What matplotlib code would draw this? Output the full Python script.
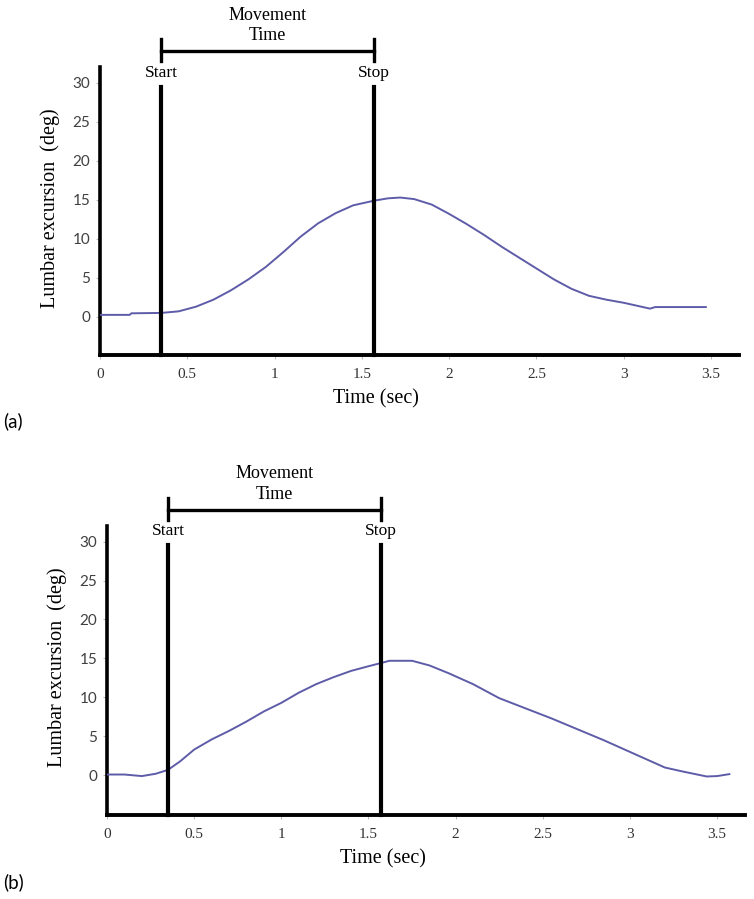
import matplotlib
matplotlib.use('Agg')
import matplotlib.pyplot as plt


# values (time in sec, lumbar excursion in deg)
time_a = [0, 0.17, 0.18, 0.35, 0.45, 0.55, 0.65, 0.75, 0.85, 0.95, 1.05, 1.15,
          1.25, 1.35, 1.45, 1.57, 1.65, 1.72, 1.8, 1.9, 2.0, 2.1, 2.2, 2.3,
          2.4, 2.5, 2.6, 2.7, 2.8, 2.9, 3.0, 3.1, 3.15, 3.18, 3.3, 3.47]
angle_a = [0.25, 0.25, 0.45, 0.5, 0.7, 1.3, 2.2, 3.4, 4.8, 6.4, 8.3, 10.3,
           12.0, 13.3, 14.3, 14.9, 15.2, 15.3, 15.1, 14.4, 13.2, 11.9, 10.5, 9.0,
           7.6, 6.2, 4.8, 3.6, 2.7, 2.2, 1.8, 1.3, 1.05, 1.25, 1.25, 1.25]

time_b = [0, 0.1, 0.2, 0.28, 0.35, 0.42, 0.5, 0.6, 0.7, 0.8, 0.9, 1.0, 1.1,
          1.2, 1.3, 1.4, 1.5, 1.57, 1.62, 1.75, 1.85, 1.96, 2.1, 2.25, 2.4,
          2.55, 2.7, 2.85, 3.0, 3.1, 3.2, 3.3, 3.44, 3.5, 3.57]
angle_b = [0.1, 0.1, -0.1, 0.2, 0.7, 1.8, 3.3, 4.6, 5.7, 6.9, 8.2, 9.3, 10.6,
           11.7, 12.6, 13.4, 14.0, 14.4, 14.7, 14.7, 14.1, 13.1, 11.7, 9.9, 8.6,
           7.3, 5.9, 4.5, 3.0, 2.0, 1.0, 0.5, -0.15, -0.1, 0.15]

x_ticks = [0, 0.5, 1, 1.5, 2, 2.5, 3, 3.5]
x_tick_labels = ['0', '0.5', '1', '1.5', '2', '2.5', '3', '3.5']
y_ticks = [0, 5, 10, 15, 20, 25, 30]
y_tick_labels = ['0', '5', '10', '15', '20', '25', '30']

start_time = 0.35
stop_time = 1.57
panel_labels = ['(a)', '(b)']


LINE_COLOR = '#5e5ca8'
SERIF = 'Liberation Serif'
SANS = ['Lato', 'DejaVu Sans']




def draw_panel(fig_p, rect_p, time_p, angle_p, ylim_p, label_p, label_y_p):
    l_ax = fig_p.add_axes(rect_p)
    l_ax.plot(time_p, angle_p, color=LINE_COLOR, lw=1.4, zorder=3)

    l_ax.set_xlim(0, 3.66)
    l_ax.set_ylim(*ylim_p)

    l_ax.spines['top'].set_visible(False)
    l_ax.spines['right'].set_visible(False)
    l_ax.spines['left'].set_linewidth(2.6)
    l_ax.spines['bottom'].set_linewidth(2.8)

    l_ax.set_xticks(x_ticks)
    l_ax.set_xticklabels(x_tick_labels, family=SERIF, fontsize=11, color='#333333')
    l_ax.set_yticks(y_ticks)
    l_ax.set_yticklabels(y_tick_labels, family=SANS, fontsize=11, color='#404040')
    l_ax.tick_params(axis='x', length=3, width=0.8, color='#bbbbbb', pad=6)
    l_ax.tick_params(axis='y', length=3, width=0.8, color='#bbbbbb', pad=4)

    l_ax.set_ylabel('Lumbar excursion  (deg)', family=SERIF, fontsize=14.5)
    l_ax.yaxis.set_label_coords(-0.063, 0.51)
    l_ax.set_xlabel('Time (sec)', family=SERIF, fontsize=14.5)
    l_ax.xaxis.set_label_coords(0.432, -0.12)

    # start / stop markers with the movement time bracket above
    for l_x, l_txt in [(start_time, 'Start'), (stop_time, 'Stop')]:
        l_ax.plot([l_x, l_x], [ylim_p[0], 29.5], color='black', lw=3, clip_on=False, zorder=4)
        l_ax.plot([l_x, l_x], [32.8, 35.6], color='black', lw=2.4, clip_on=False)
        l_ax.text(l_x, 31.3, l_txt, ha='center', va='center', family=SERIF, fontsize=12.5)

    l_mid = (start_time + stop_time) / 2
    l_ax.plot([start_time, stop_time], [34.1, 34.1], color='black', lw=2.4, clip_on=False)
    l_ax.text(l_mid, 38.7, 'Movement', ha='center', va='center', family=SERIF, fontsize=13)
    l_ax.text(l_mid, 36.1, 'Time', ha='center', va='center', family=SERIF, fontsize=13)

    fig_p.text(0.004, label_y_p, label_p, ha='left', va='center', family=SANS, fontsize=13.5)
    return l_ax




def main():
    l_fig = plt.figure(figsize=(7.54, 8.99), dpi=100)

    draw_panel(l_fig, [0.1326, 0.6051, 0.8475, 0.3204], time_a, angle_a,
               (-4.9, 32.05), panel_labels[0], 1 - 421 / 899)
    draw_panel(l_fig, [0.1419, 0.0934, 0.8462, 0.3215], time_b, angle_b,
               (-5.1, 32.0), panel_labels[1], 1 - 882 / 899)

    l_fig.savefig('out.png', dpi=100)




main()
